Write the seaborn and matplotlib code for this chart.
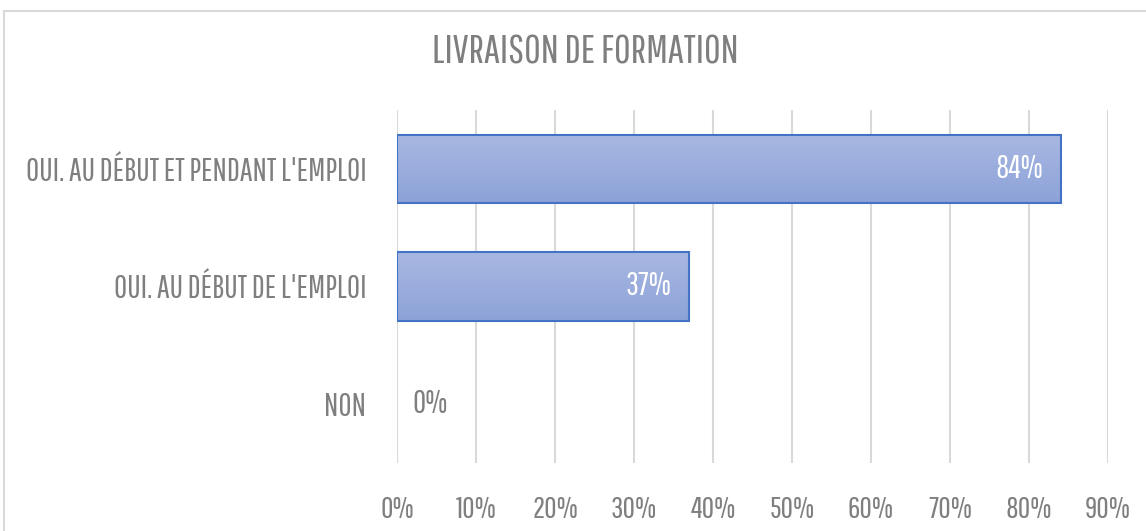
import numpy as np
import pandas as pd
import seaborn as sns
import matplotlib.pyplot as plt
from matplotlib.patches import Rectangle
from matplotlib.colors import LinearSegmentedColormap
from matplotlib.ticker import PercentFormatter

# -------- DATA --------#
categories = ["OUI. AU DÉBUT ET PENDANT L'EMPLOI", "OUI. AU DÉBUT DE L'EMPLOI", "NON"]
values = [84, 37, 0]
x_ticks = [0, 10, 20, 30, 40, 50, 60, 70, 80, 90]
title = "LIVRAISON DE FORMATION"

df = pd.DataFrame({"categorie": categories, "valeur": values})

# -------- STYLE --------#
sns.set_theme(style="white")
plt.rcParams['font.family'] = ['Pathway Gothic One', 'DejaVu Sans']
grey = "#7F7F7F"

fig = plt.figure(figsize=(11.46, 5.31), dpi=100)
ax = fig.add_axes([0.3464, 0.128, 0.9668 - 0.3464, 0.793 - 0.128])

sns.barplot(data=df, x="valeur", y="categorie", orient="h", ax=ax,
            color="#9CAEDD", edgecolor="#4472C4", linewidth=1.5, width=0.58)

# gradient fill on each bar
grad = np.linspace(0, 1, 256).reshape(-1, 1)
cmap = LinearSegmentedColormap.from_list("bar", ["#A9B8E2", "#8CA2D8"])
for p in ax.patches:
    x0, y0 = p.get_x(), p.get_y()
    w, h = p.get_width(), p.get_height()
    if w <= 0:
        p.set_visible(False)
        continue
    im = ax.imshow(grad, extent=[x0, x0 + w, y0 + h, y0], cmap=cmap,
                   aspect="auto", zorder=p.get_zorder() + 0.1)
    im.set_clip_path(p)
    p.set_facecolor("none")
    p.set_zorder(p.get_zorder() + 0.2)

ax.set_xlim(0, 90)
ax.set_ylim(2.5, -0.5)
ax.set_xticks(x_ticks)
ax.xaxis.set_major_formatter(PercentFormatter(decimals=0))
ax.grid(axis="x", color="#D9D9D9", linewidth=1.5)
ax.set_axisbelow(True)
for s in ax.spines.values():
    s.set_visible(False)
ax.set_xlabel("")
ax.set_ylabel("")
ax.tick_params(axis="x", length=0, pad=23, labelsize=22, labelcolor=grey)
ax.tick_params(axis="y", length=0, pad=22, labelsize=23, labelcolor=grey)

# data labels
for i, v in enumerate(values):
    if v > 5:
        ax.text(v - 2.2, i, f"{v}%", ha="right", va="center", color="white", fontsize=23)
    else:
        ax.text(v + 2, i, f"{v}%", ha="left", va="center", color=grey, fontsize=23)

fig.text(585 / 1146, 1 - 53 / 531, title, ha="center", va="center", color=grey, fontsize=29)

# chart border
fig.patches.append(Rectangle((4 / 1146, -0.1), 1.2, 1 - 11 / 531 + 0.1, transform=fig.transFigure,
                             fill=False, edgecolor="#D9D9D9", linewidth=1.5))

fig.savefig("out.png", dpi=100)
